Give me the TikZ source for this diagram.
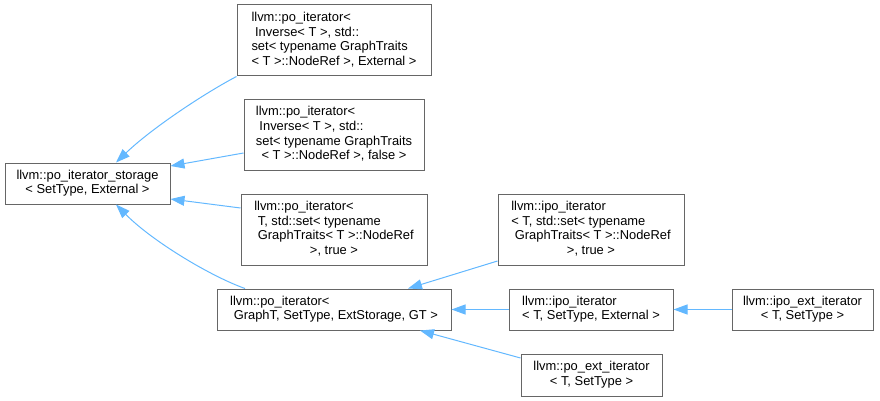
\documentclass[tikz,border=0pt]{standalone}
\usepackage{fontspec}
\setmainfont{Liberation Sans}
\usetikzlibrary{arrows.meta}

\definecolor{boxgray}{HTML}{666666}
\definecolor{inhblue}{HTML}{63B8FF}
\newcommand{\lastln}[1]{\multicolumn{1}{@{}c@{}}{#1}}

\tikzset{
	cls/.style={draw=boxgray, fill=white, line width=1pt, inner sep=0pt,
		font=\fontsize{12.9}{14.7}\selectfont},
	inh/.style={draw=inhblue, line width=1pt,
		-{Triangle[length=14pt,width=10pt,fill=inhblue]}}
}

\begin{document}
\begin{tikzpicture}[x=1pt,y=-1pt]
		\useasboundingbox (0,0) rectangle (880,401);

		% base class
		\node[cls, minimum width=165, minimum height=41] (a) at (87.5,183.5)
			{\begin{tabular}{@{}l@{}}llvm::po\_iterator\_storage\\\lastln{< SetType, External >}\end{tabular}};

		% first column
		\node[cls, minimum width=194, minimum height=71] (p1) at (334,40.5)
			{\begin{tabular}{@{}l@{}}llvm::po\_iterator<\\\ Inverse< T >, std::\\set< typename GraphTraits\\\lastln{< T >::NodeRef >, External >}\end{tabular}};
		\node[cls, minimum width=180, minimum height=71] (p2) at (334,135)
			{\begin{tabular}{@{}l@{}}llvm::po\_iterator<\\\ Inverse< T >, std::\\set< typename GraphTraits\\\lastln{< T >::NodeRef >, false >}\end{tabular}};
		\node[cls, minimum width=186, minimum height=71] (p3) at (334,229.5)
			{\begin{tabular}{@{}l@{}}llvm::po\_iterator<\\\ T, std::set< typename\\\ GraphTraits< T >::NodeRef\\\lastln{>, true >}\end{tabular}};
		\node[cls, minimum width=234, minimum height=41] (g) at (334,309.5)
			{\begin{tabular}{@{}l@{}}llvm::po\_iterator<\\\lastln{\ GraphT, SetType, ExtStorage, GT >}\end{tabular}};

		% second column
		\node[cls, minimum width=186, minimum height=71] (i1) at (591,229.5)
			{\begin{tabular}{@{}l@{}}llvm::ipo\_iterator\\< T, std::set< typename\\\ GraphTraits< T >::NodeRef\\\lastln{>, true >}\end{tabular}};
		\node[cls, minimum width=164, minimum height=41] (i2) at (591,309.5)
			{\begin{tabular}{@{}l@{}}llvm::ipo\_iterator\\\lastln{< T, SetType, External >}\end{tabular}};
		\node[cls, minimum width=141, minimum height=42] (pe) at (591.5,375)
			{\begin{tabular}{@{}l@{}}llvm::po\_ext\_iterator\\\lastln{< T, SetType >}\end{tabular}};

		% third column
		\node[cls, minimum width=141, minimum height=41] (e) at (802.5,309.5)
			{\begin{tabular}{@{}l@{}}llvm::ipo\_ext\_iterator\\\lastln{< T, SetType >}\end{tabular}};

		% inheritance
		\draw[inh] (p1.south west) .. controls (205,93) and (152,128) .. ([xshift=28.5pt]a.north);
		\draw[inh] ([yshift=-18pt]p2.west) -- ([yshift=17.5pt]a.east);
		\draw[inh] ([yshift=21.5pt]p3.west) -- ([yshift=-15.5pt]a.east);
		\draw[inh] ([xshift=-89pt]g.north) .. controls (210,276) and (152,241) .. ([xshift=28.5pt]a.south);
		\draw[inh] ([yshift=-31.5pt]i1.west) -- ([xshift=74pt]g.north);
		\draw[inh] (i2.west) -- (g.east);
		\draw[inh] ([yshift=17pt]pe.west) -- ([xshift=86pt]g.south);
		\draw[inh] (e.west) -- (i2.east);
	\end{tikzpicture}
\end{document}
